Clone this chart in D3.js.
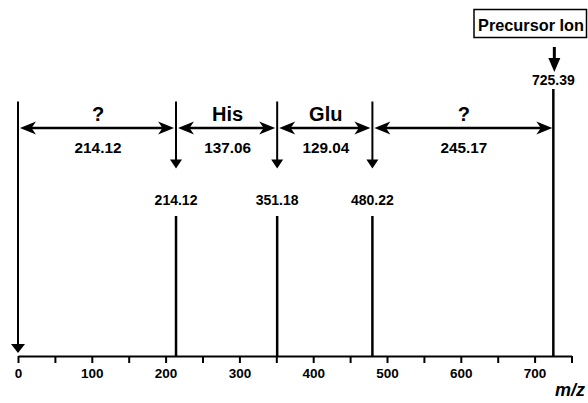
<!DOCTYPE html>
<html>
<head>
<meta charset="utf-8">
<script src="https://cdn.jsdelivr.net/npm/d3@7"></script>
<style>
  body { margin: 0; background: #fff; }
  svg { display: block; }
  text { font-family: "Liberation Sans", Arial, sans-serif; font-weight: bold; fill: #000; }
</style>
</head>
<body>
<svg id="chart" width="588" height="403"></svg>
<script>
// fragment peaks (m/z)
const peaks = [214.12, 351.18, 480.22]
const precursor = 725.39
// mass gaps between neighbouring boundaries
const bounds = [0, 214.12, 351.18, 480.22, 725.39]
const gapNames = ["?", "His", "Glu", "?"]
const gapValues = ["214.12", "137.06", "129.04", "245.17"]
const tickValues = d3.range(0, 751, 50)
const tickLabels = [0, 100, 200, 300, 400, 500, 600, 700]

const AXIS_Y = 356
const svg = d3.select("#chart")
const x = d3.scaleLinear().domain([0, 750]).range([18, 571.5])

// x axis
const xAxis = d3.axisBottom(x)
  .tickValues(tickValues)
  .tickSizeInner(7)
  .tickSizeOuter(0)
  .tickPadding(5)
  .tickFormat(d => tickLabels.includes(d) ? d : "")

const gx = svg.append("g")
  .attr("transform", "translate(0," + AXIS_Y + ")")
  .call(xAxis)
gx.select(".domain").attr("stroke", "#000").attr("stroke-width", 2)
gx.selectAll(".tick line").attr("stroke", "#000").attr("stroke-width", 2)
gx.selectAll(".tick text")
  .attr("font-family", "Liberation Sans, Arial, sans-serif")
  .attr("font-weight", "bold")
  .attr("font-size", 13.5)

svg.append("text")
  .attr("x", 585).attr("y", 396)
  .attr("text-anchor", "end")
  .attr("font-size", 18)
  .attr("font-style", "italic")
  .text("m/z")

// peak sticks + labels
svg.selectAll(".peak")
  .data(peaks)
  .enter().append("line")
  .attr("x1", d => x(d)).attr("x2", d => x(d))
  .attr("y1", 216).attr("y2", AXIS_Y)
  .attr("stroke", "#000").attr("stroke-width", 2.5)

svg.selectAll(".peaklab")
  .data(peaks)
  .enter().append("text")
  .attr("x", d => x(d)).attr("y", 205)
  .attr("text-anchor", "middle")
  .attr("font-size", 14)
  .text(d => d.toFixed(2))

// precursor stick
svg.append("line")
  .attr("x1", x(precursor)).attr("x2", x(precursor))
  .attr("y1", 89).attr("y2", AXIS_Y)
  .attr("stroke", "#000").attr("stroke-width", 2.5)
svg.append("text")
  .attr("x", x(precursor)).attr("y", 85)
  .attr("text-anchor", "middle")
  .attr("font-size", 14)
  .text(precursor.toFixed(2))

// precursor box + arrow
svg.append("rect")
  .attr("x", 474).attr("y", 9.5)
  .attr("width", 112.5).attr("height", 28)
  .attr("fill", "none").attr("stroke", "#000").attr("stroke-width", 1.5)
svg.append("text")
  .attr("x", 531).attr("y", 31)
  .attr("text-anchor", "middle")
  .attr("font-size", 16.3)
  .text("Precursor Ion")
svg.append("line")
  .attr("x1", x(precursor) + 1).attr("x2", x(precursor) + 1)
  .attr("y1", 47).attr("y2", 60)
  .attr("stroke", "#000").attr("stroke-width", 3)
svg.append("path")
  .attr("d", d3.line()([[x(precursor) + 1 - 6, 58], [x(precursor) + 1 + 6, 58], [x(precursor) + 1, 72]]))
  .attr("fill", "#000")

// bracket verticals
const TOP = 101.5
svg.append("line")
  .attr("x1", x(0)).attr("x2", x(0))
  .attr("y1", TOP).attr("y2", 346)
  .attr("stroke", "#000").attr("stroke-width", 2)
svg.append("path")
  .attr("d", d3.line()([[x(0) - 7, 344], [x(0) + 7, 344], [x(0), 353]]))
  .attr("fill", "#000")

svg.selectAll(".vdown")
  .data(peaks)
  .enter().append("line")
  .attr("x1", d => x(d)).attr("x2", d => x(d))
  .attr("y1", TOP).attr("y2", 161)
  .attr("stroke", "#000").attr("stroke-width", 2)
svg.selectAll(".vhead")
  .data(peaks)
  .enter().append("path")
  .attr("d", d => d3.line()([[x(d) - 6, 159.5], [x(d) + 6, 159.5], [x(d), 168.5]]))
  .attr("fill", "#000")

// double-headed arrows
const ARROW_Y = 128
function barb(tip, dir) {
  // dir = +1 points right, -1 points left
  return d3.line()([
    [tip, ARROW_Y],
    [tip - dir * 16, ARROW_Y - 6.5],
    [tip - dir * 11.5, ARROW_Y],
    [tip - dir * 16, ARROW_Y + 6.5]
  ]) + "Z"
}

const gaps = gapNames.map((n, i) => ({
  name: n, value: gapValues[i], a: bounds[i], b: bounds[i + 1]
}))

gaps.forEach((g, i) => {
  const left = x(g.a) + 2
  const right = x(g.b) - (i === gaps.length - 1 ? 1 : 2)
  svg.append("line")
    .attr("x1", left + 10).attr("x2", right - 10)
    .attr("y1", ARROW_Y).attr("y2", ARROW_Y)
    .attr("stroke", "#000").attr("stroke-width", 2.5)
  svg.append("path").attr("d", barb(left, -1)).attr("fill", "#000")
  svg.append("path").attr("d", barb(right, 1)).attr("fill", "#000")
  const cx = (x(g.a) + x(g.b)) / 2
  svg.append("text")
    .attr("x", cx + 1).attr("y", 120.5)
    .attr("text-anchor", "middle")
    .attr("font-size", 20)
    .text(g.name)
  svg.append("text")
    .attr("x", cx + 1).attr("y", 153)
    .attr("text-anchor", "middle")
    .attr("font-size", 15.3)
    .text(g.value)
})
</script>
</body>
</html>
